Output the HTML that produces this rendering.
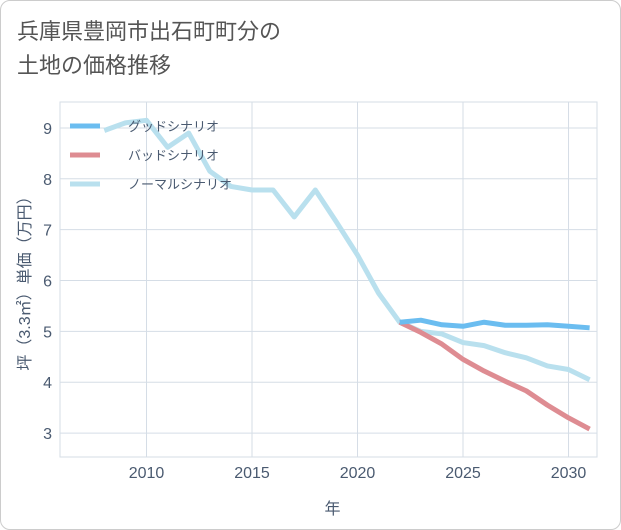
<!DOCTYPE html>
<html><head><meta charset="utf-8"><style>
body{margin:0;background:#fff;font-family:"Liberation Sans","Noto Sans CJK JP",sans-serif;}
#wrap{position:relative;width:619px;height:528px;border:1px solid #ccc;border-radius:10px;overflow:hidden;background:#fff}
#title{position:absolute;left:16px;top:14px;font-size:22px;line-height:34px;color:#555;}
</style></head><body>
<div id="wrap">
<div id="title">兵庫県豊岡市出石町町分の<br>土地の価格推移</div>
<svg id="chart" width="621" height="530" style="position:absolute;left:-1px;top:-1px"></svg>
</div>
<script>
const years=[2008,2009,2010,2011,2012,2013,2014,2015,2016,2017,2018,2019,2020,2021,2022,2023,2024,2025,2026,2027,2028,2029,2030,2031];
const normal=[8.95,9.1,9.15,8.62,8.9,8.15,7.85,7.78,7.78,7.25,7.78,7.15,6.5,5.75,5.18,5.0,4.95,4.78,4.72,4.58,4.48,4.32,4.25,4.05];
const fYears=[2022,2023,2024,2025,2026,2027,2028,2029,2030,2031];
const good=[5.18,5.22,5.13,5.1,5.18,5.12,5.12,5.13,5.1,5.07];
const bad=[5.18,4.98,4.75,4.45,4.22,4.02,4.83-1,3.55,3.3,3.08];
bad[6]=3.83;
const xTicks=[2010,2015,2020,2025,2030];
const yTicks=[3,4,5,6,7,8,9];
const L=60,R=597,T=102,B=457;
const x=v=>L+(v-2005.9)/(2031.35-2005.9)*(R-L);
const y=v=>T+(9.51-v)/(9.51-2.53)*(B-T);
const svg=document.getElementById('chart');
const NS='http://www.w3.org/2000/svg';
function mk(t,a){const e=document.createElementNS(NS,t);for(const k in a)e.setAttribute(k,a[k]);svg.appendChild(e);return e;}
let r=mk('rect',{x:L,y:T,width:R-L,height:B-T,fill:'#fff',stroke:'#d5dde6'});


xTicks.forEach(t=>{
 let g=mk('line',{x1:x(t),x2:x(t),y1:T,y2:B,stroke:'#d5dde6'});
 
 
 let tx=mk('text',{x:x(t),y:B+21,'text-anchor':'middle','font-size':16,fill:'#4a5a70'});tx.textContent=t;
 
 
});
yTicks.forEach(t=>{
 let g=mk('line',{x1:L,x2:R,y1:y(t),y2:y(t),stroke:'#d5dde6'});
 
 
 let tx=mk('text',{x:L-8,y:y(t)+6,'text-anchor':'end','font-size':16,fill:'#4a5a70'});tx.textContent=t;
 
 
});
let xt=mk('text',{x:(L+R)/2+4,y:514,'text-anchor':'middle','font-size':16,fill:'#4a5a70'});xt.textContent='年';


let yt=mk('text',{x:0,y:0,transform:`translate(30,${(T+B)/2}) rotate(-90)`,'text-anchor':'middle','font-size':16,fill:'#4a5a70'});yt.textContent='坪（3.3㎡）単価（万円）';


function line(xs,vs,c,name){
 let p=mk('polyline',{points:xs.map((v,i)=>x(v)+','+y(vs[i])).join(' '),fill:'none',stroke:c,'stroke-width':5,'stroke-linejoin':'round','clip-path':'url(#clip)'});
 
 
}
const defs=mk('defs',{});const cp=document.createElementNS(NS,'clipPath');cp.setAttribute('id','clip');const cr=document.createElementNS(NS,'rect');
cr.setAttribute('x',L);cr.setAttribute('y',T);cr.setAttribute('width',R-L);cr.setAttribute('height',B-T);cp.appendChild(cr);defs.appendChild(cp);
line(years,normal,'#b9e0ee','normal-series');
line(fYears,bad,'#de8c92','bad-series');
line(fYears,good,'#6bbdf0','good-series');
const leg=[['グッドシナリオ','#6bbdf0'],['バッドシナリオ','#de8c92'],['ノーマルシナリオ','#b9e0ee']];
leg.forEach((l,i)=>{
 let yy=126+i*29;
 let s=mk('line',{x1:70,x2:100,y1:yy,y2:yy,stroke:l[1],'stroke-width':5});
 
 
 let t=mk('text',{x:128,y:yy+5,'font-size':13,fill:'#4a5a70'});t.textContent=l[0];
 
 
});
</script>
</body></html>
